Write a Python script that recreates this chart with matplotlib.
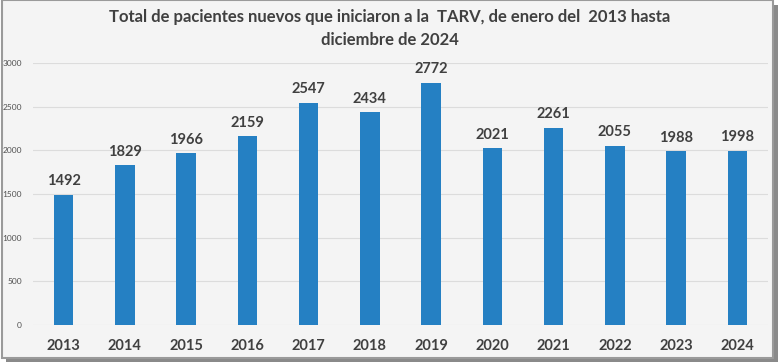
import matplotlib.pyplot as plt
from matplotlib.patches import Rectangle

years = ['2013', '2014', '2015', '2016', '2017', '2018', '2019', '2020', '2021', '2022', '2023', '2024']
pacientes = [1492, 1829, 1966, 2159, 2547, 2434, 2772, 2021, 2261, 2055, 1988, 1998]
yticks = [0, 500, 1000, 1500, 2000, 2500, 3000]
titulo = ['Total de pacientes nuevos que iniciaron a la  TARV, de enero del  2013 hasta',
          'diciembre de 2024']

plt.rcParams['font.family'] = ['Liberation Sans Narrow', 'DejaVu Sans Condensed', 'Lato', 'DejaVu Sans']

fig = plt.figure(figsize=(7.8, 3.62), dpi=100)
fig.patch.set_facecolor('white')

# marco con sombra
fig.add_artist(Rectangle((0.008, 0.0), 0.99, 0.985, transform=fig.transFigure,
                         facecolor='#8a8a8a', edgecolor='none', zorder=0))
fig.add_artist(Rectangle((0.003, 0.012), 0.988, 0.988, transform=fig.transFigure,
                         facecolor='#f4f4f4', edgecolor='#9a9a9a', lw=1.5, zorder=0))

ax = fig.add_axes([0.0423, 0.1022, 0.9423, 0.7238])
ax.set_facecolor('none')
x = range(len(years))
ax.bar(x, pacientes, width=0.32, color='#2580c3', zorder=3)
for i, v in zip(x, pacientes):
    ax.text(i, v + 75, str(v), ha='center', va='bottom', fontsize=10.5,
            fontweight='bold', color='#404040')

ax.set_ylim(0, 3000)
ax.set_xlim(-0.5, 11.5)
ax.set_yticks(yticks)
ax.set_xticks(list(x))
ax.set_xticklabels(years, fontsize=10.5, fontweight='bold', color='#404040')
ax.tick_params(axis='y', labelsize=6, colors='#505050', length=0, pad=8)
ax.tick_params(axis='x', length=0, pad=10)
ax.grid(axis='y', color='#dcdcdc', lw=0.8, zorder=0)
for s in ax.spines.values():
    s.set_visible(False)

# título en dos líneas
fig.text(0.5, 1 - 17 / 362, titulo[0], ha='center', va='center', fontsize=12,
         fontweight='bold', color='#404040')
fig.text(0.5, 1 - 40 / 362, titulo[1], ha='center', va='center', fontsize=12,
         fontweight='bold', color='#404040')

fig.savefig('out.png', dpi=100, facecolor=fig.get_facecolor())
